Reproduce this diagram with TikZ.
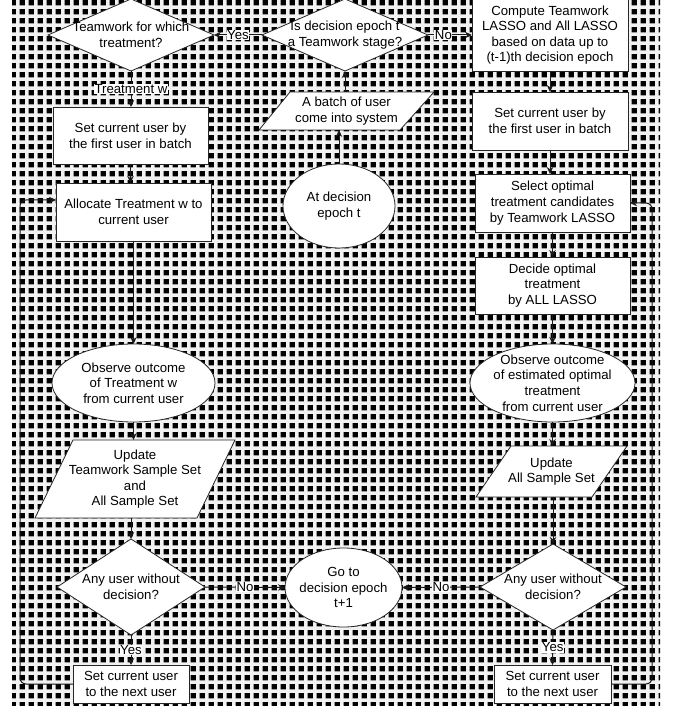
\documentclass[tikz,border=0pt]{standalone}
\usepackage{fontspec}
\setmainfont{Liberation Sans}
\usetikzlibrary{shapes.geometric,arrows.meta,patterns}
\pgfdeclarepatternformonly{bsq}{\pgfpointorigin}{\pgfpoint{9.2pt}{9.2pt}}{\pgfpoint{9.2pt}{9.2pt}}{\pgfpathrectangle{\pgfpoint{1.8pt}{1.8pt}}{\pgfpoint{5.6pt}{5.6pt}}\pgfusepath{fill}}
\newcommand\ft{\fontsize{13.2}{15.6}\selectfont}
\begin{document}
\begin{tikzpicture}[x=1pt,y=-1pt,
  shp/.style={draw=black!85, fill=white, line width=0.8pt, inner sep=0pt, outer sep=0pt},
  txt/.style={align=center, font=\ft, inner sep=0pt, text=black},
  T/.style={label={[txt]center:{#1}}},
  sz/.style 2 args={minimum width=#1pt, minimum height=#2pt},
  box/.style={shp, rectangle},
  dia/.style={shp, diamond, aspect=2},
  ell/.style={shp, ellipse},
  hold/.style={rectangle, inner sep=0pt, outer sep=0pt},
  arr/.style={draw=black!90, line width=1pt, -{Stealth[length=7pt,width=6.5pt]}},
  el/.style={fill=white, inner sep=0.6pt, font=\ft, text=black}]
\useasboundingbox (0,0) rectangle (677,708);
\fill[gray!10] (12,0) rectangle (660,705);
\fill[pattern=bsq, pattern color=black] (12,0) rectangle (660,705);

% parallelogram outlines
\filldraw[shp] (259,130) -- (400,130) -- (434,92) -- (290,92) -- cycle;
\filldraw[shp] (35,518) -- (197,518) -- (235,440) -- (73,440) -- cycle;
\filldraw[shp] (476,497) -- (592,497) -- (627,446) -- (511,446) -- cycle;

\node[dia, sz={166}{72}, T={Teamwork for which\\treatment?}] (d1) at (131,35) {};
\node[dia, sz={166}{72}, T={Is decision epoch t\\a Teamwork stage?}] (d2) at (345,35) {};
\node[box, sz={156}{72}, T={Compute Teamwork\\LASSO and All LASSO\\based on data up to\\(t-1)th decision epoch}] (b1) at (550,35) {};
\node[box, sz={155}{57}, T={Set current user by\\the first user in batch}] (b2) at (130.5,135.5) {};
\node[hold, sz={175}{38}, T={A batch of user\\come into system}] (p1) at (346.5,111) {};
\node[box, sz={156}{58}, T={Set current user by\\the first user in batch}] (b3) at (550,121) {};
\node[box, sz={155}{58}, T={Allocate Treatment w to\\current user}] (b4) at (133.5,212) {};
\node[ell, sz={112}{84}, T={At decision\\epoch t}] (e1) at (339,206) {};
\node[box, sz={155}{58}, T={Select optimal\\treatment candidates\\by Teamwork LASSO}] (b5) at (552.5,203) {};
\node[box, sz={155}{57}, T={Decide optimal\\treatment\\by ALL LASSO}] (b6) at (552.5,285.5) {};
\node[ell, sz={163}{78}, T={Observe outcome\\of Treatment w\\from current user}] (e2) at (133.5,383) {};
\node[ell, sz={165}{78}, T={Observe outcome\\of estimated optimal\\treatment\\from current user}] (e3) at (552.5,383) {};
\node[hold, sz={200}{78}, T={Update\\Teamwork Sample Set\\and\\All Sample Set}] (p2) at (135,479) {};
\node[hold, sz={151}{51}, T={Update\\All Sample Set}] (p3) at (551.5,471.5) {};
\node[dia, sz={148}{96}, T={Any user without\\decision?}] (d3) at (131,587) {};
\node[dia, sz={146}{86}, T={Any user without\\decision?}] (d4) at (553,587) {};
\node[ell, sz={117}{79}, T={Go to\\decision epoch\\t+1}] (e4) at (343.5,587.5) {};
\node[box, sz={116}{38}, T={Set current user\\to the next user}] (b7) at (131,684) {};
\node[box, sz={117}{38}, T={Set current user\\to the next user}] (b8) at (552.5,684) {};

\coordinate (lx) at (20,0);
\coordinate (ly) at (0,200);
\coordinate (rx) at (652,0);

\draw[arr] (d2.west) -- node[el]{Yes} (d1.east);
\draw[arr] (d2.east) -- node[el,pos=0.35]{No} (b1.west);
\draw[arr] (d1.south) -- node[el]{Treatment w} (d1.south |- b2.north);
\draw[arr] (b2.south) -- (b2.south |- b4.north);
\draw[arr] (e1.north) -- (e1.north |- p1.south);
\draw[arr] (d2.south |- p1.north) -- (d2.south);
\draw[arr] (b1.south) -- (b3.north);
\draw[arr] (b3.south) -- (b3.south |- b5.north);
\draw[arr] (b5.south) -- (b6.north);
\draw[arr] (b6.south) -- (e3.north);
\draw[arr] (e3.south) -- (e3.south |- p3.north);
\draw[arr] (d4.north |- p3.south) -- (d4.north);
\draw[arr] (b4.south) -- (e2.north);
\draw[arr] (e2.south) -- (e2.south |- p2.north);
\draw[arr] (d3.north |- p2.south) -- (d3.north);
\draw[arr] (d3.east) -- node[el]{No} (e4.west);
\draw[arr] (d4.west) -- node[el]{No} (e4.east);
\draw[arr] (d3.south) -- node[el]{Yes} (b7.north);
\draw[arr] (d4.south) -- node[el]{Yes} (b8.north);
\draw[arr, rounded corners=6pt] (b7.west) -| (lx |- ly) -- (b4.west |- ly);
\draw[arr, rounded corners=6pt] (b8.east) -| (rx |- b5.east) -- (b5.east);
\end{tikzpicture}
\end{document}
